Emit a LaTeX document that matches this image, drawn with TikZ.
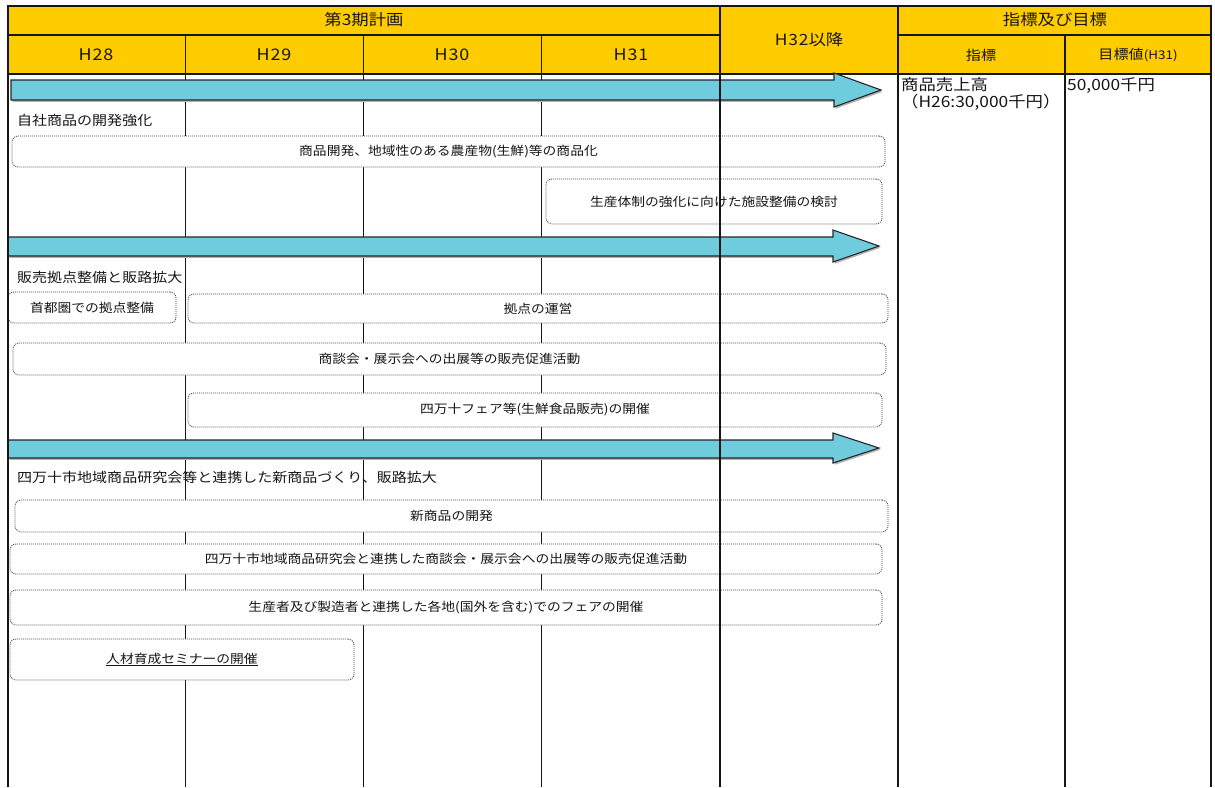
\documentclass[tikz,border=0pt]{standalone}
\usepackage{fontspec}
\setmainfont{Noto Sans CJK JP}[FakeStretch=1.12]
\definecolor{hdryellow}{HTML}{FFCC00}
\definecolor{arrowblue}{HTML}{6ECCDC}
\definecolor{ink}{HTML}{161616}
\newcommand\bigarr[8]{%
  \fill[black!30, shift={(1.5,1.8)}] (#1,#2) -- (#6,#2) -- (#6,#4) -- (#7,#8) -- (#6,#5) -- (#6,#3) -- (#1,#3) -- cycle;
  \draw[bigarrow] (#1,#2) -- (#6,#2) -- (#6,#4) -- (#7,#8) -- (#6,#5) -- (#6,#3) -- (#1,#3) -- cycle;}
\tikzset{
  thinl/.style={line width=0.9pt, draw=ink},
  medl/.style={line width=1.4pt, draw=ink},
  thickl/.style={line width=2.6pt, draw=ink},
  hdr/.style={font=\fontsize{15.5}{18}\selectfont, text=ink, inner sep=0pt},
  yr/.style={font=\fontsize{16}{18}\selectfont\addfontfeature{LetterSpace=6}, text=ink, inner sep=0pt},
  rtxt/.style={font=\fontsize{15.5}{17}\selectfont, text=ink, inner sep=0pt, anchor=north west, align=left},
  lbl/.style={font=\fontsize{13.4}{16}\selectfont, anchor=west, inner sep=0pt, text=ink},
  dbox/.style={draw=black!75, dash pattern=on 1pt off 1pt, line width=0.8pt, rounded corners=6pt,
    fill=white, font=\fontsize{12.3}{14}\selectfont, inner sep=0pt, text=ink},
  bigarrow/.style={fill=arrowblue, draw=black!85, line width=1.1pt, line join=miter},
}
\begin{document}
\begin{tikzpicture}[x=1pt,y=-1pt]
\useasboundingbox (0,0) rectangle (1215,787);
% header fill
\fill[hdryellow] (8,6) rectangle (1211,74);
% thin column lines
\foreach \cx in {185,363,541} \draw[thinl] (\cx,35) -- (\cx,787);
\draw[medl] (1065,35) -- (1065,787);
\draw[medl] (8,35) -- (720,35);
\draw[medl] (898,35) -- (1211,35);
\draw[medl] (8,74) -- (1211,74);
% arrows
\bigarr{11}{80}{100}{73}{107}{834}{881}{90}
\bigarr{8}{237}{256}{230}{262}{833}{879}{246}
\bigarr{8}{440}{458}{433}{463}{833}{879}{448}
% labels
\node[lbl] (l1) at (17,120) {自社商品の開発強化};
\node[lbl] (l2) at (17,277) {販売拠点整備と販路拡大};
\node[lbl] (l3) at (17,477) {四万十市地域商品研究会等と連携した新商品づくり、販路拡大};
% dotted boxes
\node[dbox, minimum width=873pt, minimum height=31pt] (b1) at (448.5,151.5) {商品開発、地域性のある農産物(生鮮)等の商品化};
\node[dbox, minimum width=336pt, minimum height=45pt] (b2) at (714,201.5) {生産体制の強化に向けた施設整備の検討};
\node[dbox, minimum width=168pt, minimum height=31pt] (b3) at (92,307.5) {首都圏での拠点整備};
\node[dbox, minimum width=700pt, minimum height=29pt] (b4) at (538,308.5) {拠点の運営};
\node[dbox, minimum width=873pt, minimum height=32pt] (b5) at (449.5,359) {商談会・展示会への出展等の販売促進活動};
\node[dbox, minimum width=694pt, minimum height=34pt] (b6) at (535,410) {四万十フェア等(生鮮食品販売)の開催};
\node[dbox, minimum width=873pt, minimum height=32pt] (b7) at (451.5,516) {新商品の開発};
\node[dbox, minimum width=872pt, minimum height=30pt] (b8) at (446,559) {四万十市地域商品研究会と連携した商談会・展示会への出展等の販売促進活動};
\node[dbox, minimum width=872pt, minimum height=35pt] (b9) at (446,607.5) {生産者及び製造者と連携した各地(国外を含む)でのフェアの開催};
\node[dbox, minimum width=344pt, minimum height=41pt] (b10) at (182,659.5) {\underline{人材育成セミナーの開催}};
% thick frame lines
\draw[thickl] (8,787) -- (8,6) -- (1211,6) -- (1211,787);
\draw[thickl] (720,6) -- (720,787);
\draw[thickl] (898,6) -- (898,787);
% header texts
\node[hdr] (h0) at (364,20) {第3期計画};
\node[yr] (h28) at (96,55) {H28};
\node[yr] (h29) at (274,55) {H29};
\node[yr] (h30) at (452,55) {H30};
\node[yr] (h31) at (631,55) {H31};
\node[hdr] (h32) at (809,40) {{\addfontfeature{LetterSpace=6}H32}以降};
\node[hdr] (hi) at (1055,20) {指標及び目標};
\node[hdr, font=\fontsize{13.5}{16}\selectfont] (hi1) at (981,55) {指標};
\node[hdr, font=\fontsize{13.5}{16}\selectfont] (hi2) at (1138,55) {目標値{\fontsize{12}{13}\selectfont(H31)}};
% right column texts
\node[rtxt] (r1) at (901,77) {商品売上高\\（H26:30,000千円）};
\node[rtxt] (r2) at (1067,77) {50,000千円};
\end{tikzpicture}
\end{document}
